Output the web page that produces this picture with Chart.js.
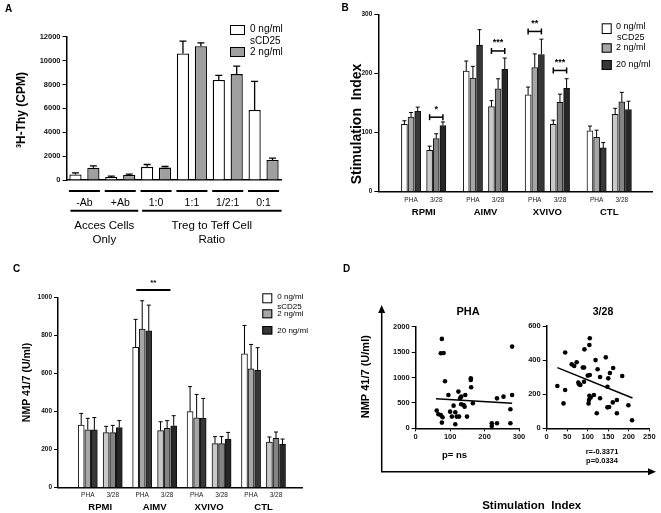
<!DOCTYPE html>
<html><head><meta charset="utf-8">
<script src="https://cdn.jsdelivr.net/npm/chart.js@4.4.1/dist/chart.umd.min.js"></script>
<style>
html,body{margin:0;padding:0;background:#fff;}
body{width:661px;height:513px;overflow:hidden;position:relative;}
canvas{position:absolute;}
</style></head>
<body>
<canvas id="cA" width="330" height="250" style="left:0;top:0;width:330px;height:250px"></canvas>
<canvas id="cB" width="331" height="250" style="left:330px;top:0;width:331px;height:250px"></canvas>
<canvas id="cC" width="330" height="263" style="left:0;top:250px;width:330px;height:263px"></canvas>
<canvas id="cD1" width="331" height="263" style="left:330px;top:250px;width:331px;height:263px"></canvas>
<canvas id="cD2" width="146" height="263" style="left:515px;top:250px;width:146px;height:263px"></canvas>
<script>
// ---------------- DATA ----------------
// Panel A
const aCategories = ['-Ab', '+Ab', '1:0', '1:1', '1/2:1', '0:1'];
const aGroupNames = [['Acces Cells', 'Only'], ['Treg to Teff Cell', 'Ratio']];
const aGroupMembers = [[0, 1], [2, 5]];
const aValues0 = [470, 250, 1100, 10600, 8370, 5860];
const aErrors0 = [130, 80, 200, 1030, 390, 2400];
const aValues2 = [1030, 420, 1040, 11200, 8870, 1670];
const aErrors2 = [150, 80, 90, 280, 670, 170];
const aTicks = [0, 2000, 4000, 6000, 8000, 10000, 12000];

// Panels B and C: order RPMI PHA, RPMI 3/28, AIMV PHA, AIMV 3/28, XVIVO PHA, XVIVO 3/28, CTL PHA, CTL 3/28
const media = ['RPMI', 'AIMV', 'XVIVO', 'CTL'];
const stimuli = ['PHA', '3/28'];
const doseLabels = ['0 ng/ml', '2 ng/ml', '20 ng/ml'];

const bValues0 = [114, 70, 204, 144, 164, 114, 103, 131];
const bErrors0 = [6, 7, 17, 10, 13, 7, 8, 10];
const bValues2 = [126, 90, 192, 174, 210, 151, 92, 152];
const bErrors2 = [8, 8, 20, 17, 23, 14, 12, 16];
const bValues20 = [136, 112, 248, 207, 232, 175, 74, 139];
const bErrors20 = [7, 6, 26, 19, 26, 16, 9, 14];
const bTicks = [0, 100, 200, 300];
const bSignif = [
  {sub: 1, label: '*', y: 126},
  {sub: 3, label: '***', y: 238},
  {sub: 4, label: '**', y: 271},
  {sub: 5, label: '***', y: 205}
];

const cValues0 = [330, 290, 739, 300, 400, 232, 704, 240];
const cErrors0 = [61, 33, 147, 47, 132, 37, 150, 27];
const cValues2 = [305, 290, 835, 312, 368, 232, 625, 260];
const cErrors2 = [60, 38, 149, 41, 123, 37, 129, 33];
const cValues20 = [304, 316, 826, 326, 365, 256, 618, 228];
const cErrors20 = [65, 37, 135, 53, 105, 35, 119, 28];
const cTicks = [0, 200, 400, 600, 800, 1000];
const cSignif = {fromSub: 2, toSub: 3, label: '**', y: 1040};

// Panel D scatter: PHA
const phaX = [76, 73, 81, 85, 95, 61, 66, 73, 78, 76, 100, 105, 110, 115, 115, 119, 124, 126, 132, 129, 132, 139, 142, 144, 149, 160, 160, 161, 166, 221, 221, 236, 236, 255, 275, 275, 280, 280];
const phaY = [1760, 1476, 1483, 925, 656, 348, 276, 262, 217, 112, 328, 230, 446, 79, 315, 230, 722, 230, 472, 590, 623, 459, 426, 656, 230, 984, 951, 807, 492, 98, 46, 98, 590, 623, 98, 374, 1608, 656];
const phaFitX = [59, 280];
const phaFitY = [583, 492];
const phaXTicks = [0, 100, 200, 300];
const phaYTicks = [0, 500, 1000, 1500, 2000];
// Panel D scatter: 3/28
const cd3X = [26, 45, 41, 45, 61, 67, 73, 77, 79, 82, 88, 91, 91, 92, 100, 105, 104, 105, 104, 102, 103, 107, 115, 119, 124, 130, 130, 122, 144, 150, 154, 148, 148, 152, 161, 162, 171, 171, 184, 199, 208];
const cd3Y = [248, 225, 146, 445, 375, 365, 387, 268, 258, 254, 357, 357, 273, 463, 309, 313, 489, 528, 191, 146, 166, 180, 195, 400, 346, 301, 176, 88, 416, 293, 324, 244, 123, 125, 152, 354, 166, 88, 307, 135, 47];
const cd3FitX = [26, 209];
const cd3FitY = [356, 178];
const cd3XTicks = [0, 50, 100, 150, 200, 250];
const cd3YTicks = [0, 200, 400, 600];

// ---------------- STYLE ----------------
const FONT = '"Liberation Sans", Arial, Helvetica, sans-serif';
Chart.defaults.font.family = FONT;
Chart.defaults.color = '#000';
Chart.defaults.animation = false;
Chart.defaults.plugins.legend.display = false;
Chart.defaults.plugins.tooltip.enabled = false;

const phaColors = ['#ffffff', '#a6a6a6', '#363636'];
const c328Colors = ['#c9c9c9', '#848484', '#262626'];
const plain = v => String(v);

function font(size, bold) { return (bold ? 'bold ' : '') + size + 'px ' + FONT; }
function txt(ctx, s, x, y, f, align, base) {
  ctx.save(); ctx.font = f; ctx.fillStyle = '#000';
  ctx.textAlign = align || 'center'; ctx.textBaseline = base || 'middle';
  ctx.fillText(s, x, y); ctx.restore();
}
function vtxt(ctx, s, x, y, f) {
  ctx.save(); ctx.translate(x, y); ctx.rotate(-Math.PI / 2);
  ctx.font = f; ctx.fillStyle = '#000'; ctx.textAlign = 'center'; ctx.textBaseline = 'middle';
  ctx.fillText(s, 0, 0); ctx.restore();
}
function line(ctx, x1, y1, x2, y2, w) {
  ctx.save(); ctx.strokeStyle = '#000'; ctx.lineWidth = w || 1;
  ctx.beginPath(); ctx.moveTo(x1, y1); ctx.lineTo(x2, y2); ctx.stroke(); ctx.restore();
}
function box(ctx, x, y, w, h, fill) {
  ctx.save(); ctx.fillStyle = fill; ctx.fillRect(x, y, w, h);
  ctx.strokeStyle = '#000'; ctx.lineWidth = 1; ctx.strokeRect(x + 0.5, y + 0.5, w - 1, h - 1); ctx.restore();
}

const errorBarPlugin = {
  id: 'errorBars',
  afterDatasetsDraw(chart) {
    const ctx = chart.ctx, ys = chart.scales.y;
    chart.data.datasets.forEach((ds, di) => {
      if (!ds.errors) return;
      const meta = chart.getDatasetMeta(di);
      meta.data.forEach((bar, i) => {
        const raw = ds.data[i];
        const v = (typeof raw === 'object') ? raw.y : raw;
        const top = ys.getPixelForValue(v + ds.errors[i]);
        const cw = ds.capHalf || 2.5;
        ctx.save(); ctx.strokeStyle = '#000'; ctx.lineWidth = ds.errWidth || 1;
        ctx.beginPath(); ctx.moveTo(bar.x, bar.y); ctx.lineTo(bar.x, top);
        ctx.moveTo(bar.x - cw, top); ctx.lineTo(bar.x + cw, top); ctx.stroke(); ctx.restore();
      });
    });
  }
};

function yAxis(ticks, width, fsize) {
  return {
    min: ticks[0], max: ticks[ticks.length - 1],
    afterBuildTicks: s => { s.ticks = ticks.map(v => ({value: v})); },
    ticks: {font: {size: fsize, weight: 'bold'}, padding: 2, color: '#111', callback: plain},
    grid: {drawOnChartArea: false, color: '#000', tickLength: 4, lineWidth: 1},
    border: {color: '#000', width: 1.5},
    afterFit: s => { s.width = width; }
  };
}

// ---------------- PANEL A ----------------
new Chart(document.getElementById('cA'), {
  type: 'bar',
  data: {
    labels: aCategories,
    datasets: [
      {data: aValues0, errors: aErrors0, backgroundColor: '#ffffff', borderColor: '#000', borderWidth: 1.3, capHalf: 3.5, errWidth: 1.3},
      {data: aValues2, errors: aErrors2, backgroundColor: '#9f9f9f', borderColor: '#000', borderWidth: 1.3, capHalf: 3.5, errWidth: 1.3}
    ]
  },
  options: {
    responsive: false, devicePixelRatio: 1,
    datasets: {bar: {categoryPercentage: 1.0, barPercentage: 0.68, borderSkipped: 'bottom'}},
    layout: {padding: {left: 0, top: 36.7, right: 48.5, bottom: 0}},
    scales: {
      x: {
        grid: {display: false, drawTicks: false, tickLength: 0}, border: {color: '#000', width: 1.5},
        ticks: {font: {size: 10.5}, padding: 17, autoSkip: false, maxRotation: 0, color: '#000'},
        afterFit: s => { s.height = 70; }
      },
      y: yAxis(aTicks, 66.5, 7.5)
    }
  },
  plugins: [errorBarPlugin, {
    id: 'decorA',
    afterDraw(chart) {
      const ctx = chart.ctx, xs = chart.scales.x;
      txt(ctx, 'A', 5, 12, font(10, true), 'left', 'alphabetic');
      vtxt(ctx, '\u00B3H-Thy (CPM)', 22, 110, font(12, true));
      for (let i = 0; i < aCategories.length; i++) {
        const c = xs.getPixelForValue(i);
        line(ctx, c - 15.5, 191, c + 15.5, 191, 2);
      }
      aGroupMembers.forEach((g, k) => {
        const x1 = xs.getPixelForValue(g[0]) - 14, x2 = xs.getPixelForValue(g[1]) + 18;
        line(ctx, x1, 210.7, x2, 210.7, 2);
        const cx = (x1 + x2) / 2;
        txt(ctx, aGroupNames[k][0], cx, 225.5, font(11.5));
        txt(ctx, aGroupNames[k][1], cx, 239.5, font(11.5));
      });
      box(ctx, 230, 25, 15, 10, '#ffffff');
      box(ctx, 230, 47, 15, 10, '#9f9f9f');
      txt(ctx, '0 ng/ml', 250, 29.5, font(10), 'left');
      txt(ctx, 'sCD25', 250, 41, font(10), 'left');
      txt(ctx, '2 ng/ml', 250, 52, font(10), 'left');
    }
  }]
});

// ---------------- PANELS B & C helpers ----------------
function subCenter(i, subStep) { return Math.floor(i / 2) + (i % 2) * subStep; }
function groupedSets(valsArr, errsArr, subStep, barStep, capHalf) {
  return valsArr.map((vals, k) => ({
    data: vals.map((v, i) => ({x: subCenter(i, subStep) + (k - 1) * barStep, y: v})),
    errors: errsArr[k],
    backgroundColor: vals.map((v, i) => (i % 2 === 0 ? phaColors[k] : c328Colors[k])),
    borderColor: '#111', borderWidth: 1, capHalf: capHalf, errWidth: 1
  }));
}
function groupedOptions(cfg) {
  const centers = [0, 1, 2, 3, 4, 5, 6, 7].map(i => subCenter(i, cfg.subStep));
  return {
    responsive: false, devicePixelRatio: 1,
    datasets: {bar: {grouped: false, barThickness: cfg.barThickness, borderSkipped: 'bottom'}},
    layout: {padding: {left: 0, top: cfg.top, right: cfg.right, bottom: 0}},
    scales: {
      x: {
        type: 'linear', min: cfg.xmin, max: cfg.xmax,
        afterBuildTicks: s => { s.ticks = centers.map(v => ({value: v})); },
        grid: {display: false, drawTicks: false, tickLength: 0}, border: {color: '#000', width: 1.5},
        ticks: {font: {size: 6.5}, color: '#222', padding: cfg.tickPad, autoSkip: false, maxRotation: 0,
                callback: (v, i) => stimuli[i % 2]},
        afterFit: s => { s.height = cfg.xHeight; }
      },
      y: yAxis(cfg.yTicks, cfg.yWidth, 6.5)
    }
  };
}

// ---------------- PANEL B ----------------
const bSub = 0.4074, bBar = 0.1075;
new Chart(document.getElementById('cB'), {
  type: 'bar',
  data: {datasets: groupedSets([bValues0, bValues2, bValues20], [bErrors0, bErrors2, bErrors20], bSub, bBar, 2)},
  options: groupedOptions({subStep: bSub, barThickness: 6, top: 14.3, right: 9, xmin: -0.253, xmax: 3.619,
                           tickPad: 5, xHeight: 58.3, yTicks: bTicks, yWidth: 48.3}),
  plugins: [errorBarPlugin, {
    id: 'decorB',
    afterDraw(chart) {
      const ctx = chart.ctx, xs = chart.scales.x, ys = chart.scales.y;
      txt(ctx, 'B', 11.5, 11, font(10, true), 'left', 'alphabetic');
      vtxt(ctx, 'Stimulation  Index', 26.7, 124, font(14, true));
      media.forEach((m, g) => {
        const cx = xs.getPixelForValue(g + bSub / 2);
        txt(ctx, m, cx, 212, font(9.5, true));
      });
      bSignif.forEach(s => {
        const c = subCenter(s.sub, bSub);
        const x1 = xs.getPixelForValue(c - bBar), x2 = xs.getPixelForValue(c + bBar);
        const y = ys.getPixelForValue(s.y);
        line(ctx, x1, y, x2, y, 1.5);
        line(ctx, x1, y - 3, x1, y + 3, 1.5);
        line(ctx, x2, y - 3, x2, y + 3, 1.5);
        txt(ctx, s.label, (x1 + x2) / 2, y - 8, font(9, true));
      });
      const L = 271.7, T = 286;
      box(ctx, L, 23.3, 10, 10.7, phaColors[0]);
      box(ctx, L, 43.3, 10, 9.4, phaColors[1]);
      box(ctx, L, 60, 10, 10, phaColors[2]);
      txt(ctx, doseLabels[0], T, 27, font(9), 'left');
      txt(ctx, 'sCD25', T + 1, 37.8, font(9), 'left');
      txt(ctx, doseLabels[1], T, 47.8, font(9), 'left');
      txt(ctx, doseLabels[2], T, 64.5, font(9), 'left');
    }
  }]
});

// ---------------- PANEL C ----------------
const cSub = 0.4582, cBar = 0.1206;
new Chart(document.getElementById('cC'), {
  type: 'bar',
  data: {datasets: groupedSets([cValues0, cValues2, cValues20], [cErrors0, cErrors2, cErrors20], cSub, cBar, 2)},
  options: groupedOptions({subStep: cSub, barThickness: 6, top: 47.7, right: 28, xmin: -0.267, xmax: 3.656,
                           tickPad: 4, xHeight: 25.3, yTicks: cTicks, yWidth: 58}),
  plugins: [errorBarPlugin, {
    id: 'decorC',
    afterDraw(chart) {
      const ctx = chart.ctx, xs = chart.scales.x, ys = chart.scales.y;
      txt(ctx, 'C', 13, 21.7, font(10, true), 'left', 'alphabetic');
      vtxt(ctx, 'NMP 41/7 (U/ml)', 26.7, 132.5, font(10.5, true));
      media.forEach((m, g) => {
        const cx = xs.getPixelForValue(g + cSub / 2);
        txt(ctx, m, cx, 257.5, font(9.5, true));
      });
      const x1 = xs.getPixelForValue(subCenter(cSignif.fromSub, cSub) - 0.9 * cBar);
      const x2 = xs.getPixelForValue(subCenter(cSignif.toSub, cSub) + 0.5 * cBar);
      const y = ys.getPixelForValue(cSignif.y);
      line(ctx, x1, y, x2, y, 2);
      txt(ctx, cSignif.label, (x1 + x2) / 2, y - 7, font(8, true));
      const L = 262.3, T = 277.3;
      box(ctx, L, 43.3, 10, 10, phaColors[0]);
      box(ctx, L, 59.3, 10, 9, phaColors[1]);
      box(ctx, L, 76, 10, 8.5, phaColors[2]);
      txt(ctx, doseLabels[0], T, 47, font(8), 'left');
      txt(ctx, 'sCD25', T, 56.3, font(8), 'left');
      txt(ctx, doseLabels[1], T, 63.7, font(8), 'left');
      txt(ctx, doseLabels[2], T, 80.3, font(8), 'left');
    }
  }]
});

// ---------------- PANEL D ----------------
function scatterCfg(xs, ys, fx, fy, xTicks, yTicks, pad, yWidth, xHeight, decor) {
  return {
    type: 'scatter',
    data: {datasets: [
      {data: xs.map((x, i) => ({x: x, y: ys[i]})), pointRadius: 2.3, backgroundColor: '#000', borderWidth: 0},
      {data: fx.map((x, i) => ({x: x, y: fy[i]})), showLine: true, pointRadius: 0, borderColor: '#000', borderWidth: 1.5}
    ]},
    options: {
      responsive: false, devicePixelRatio: 1,
      layout: {padding: pad},
      scales: {
        x: {
          type: 'linear', min: xTicks[0], max: xTicks[xTicks.length - 1],
          afterBuildTicks: s => { s.ticks = xTicks.map(v => ({value: v})); },
          ticks: {font: {size: 7.5, weight: 'bold'}, padding: 1, color: '#111', maxRotation: 0, callback: plain},
          grid: {drawOnChartArea: false, color: '#000', tickLength: 3, lineWidth: 1},
          border: {color: '#000', width: 1.5},
          afterFit: s => { s.height = xHeight; }
        },
        y: yAxis(yTicks, yWidth, 7.5)
      }
    },
    plugins: [decor]
  };
}
function arrowHead(ctx, x, y, dir) {
  ctx.save(); ctx.fillStyle = '#000'; ctx.beginPath();
  if (dir === 'up') { ctx.moveTo(x, y); ctx.lineTo(x - 3.5, y + 8); ctx.lineTo(x + 3.5, y + 8); }
  else { ctx.moveTo(x, y); ctx.lineTo(x - 8, y - 3.5); ctx.lineTo(x - 8, y + 3.5); }
  ctx.closePath(); ctx.fill(); ctx.restore();
}
new Chart(document.getElementById('cD1'), scatterCfg(phaX, phaY, phaFitX, phaFitY, phaXTicks, phaYTicks,
  {left: 55.7, top: 76.7, right: 142, bottom: 0}, 30, 84.7, {
    id: 'decorD1',
    afterDraw(chart) {
      const ctx = chart.ctx;
      txt(ctx, 'D', 13, 21.7, font(10, true), 'left', 'alphabetic');
      line(ctx, 51.7, 221.7, 51.7, 60, 1.5);
      arrowHead(ctx, 51.7, 55, 'up');
      line(ctx, 51, 221.7, 320, 221.7, 1.5);
      arrowHead(ctx, 326, 221.7, 'right');
      vtxt(ctx, 'NMP 41/7 (U/ml)', 36, 126.7, font(11, true));
      txt(ctx, 'Stimulation  Index', 201.7, 256, font(11.5, true));
      txt(ctx, 'PHA', 138, 62, font(11, true));
      txt(ctx, 'p= ns', 124.5, 205.7, font(9.5, true));
    }
  }));
new Chart(document.getElementById('cD2'), scatterCfg(cd3X, cd3Y, cd3FitX, cd3FitY, cd3XTicks, cd3YTicks,
  {left: 0, top: 76, right: 11.7, bottom: 0}, 31.7, 84.7, {
    id: 'decorD2',
    afterDraw(chart) {
      const ctx = chart.ctx;
      txt(ctx, '3/28', 88, 62, font(10.5, true));
      txt(ctx, 'r=-0.3371', 87, 202.3, font(7.5, true));
      txt(ctx, 'p=0.0334', 87, 211, font(7.5, true));
    }
  }));
</script>
</body></html>
